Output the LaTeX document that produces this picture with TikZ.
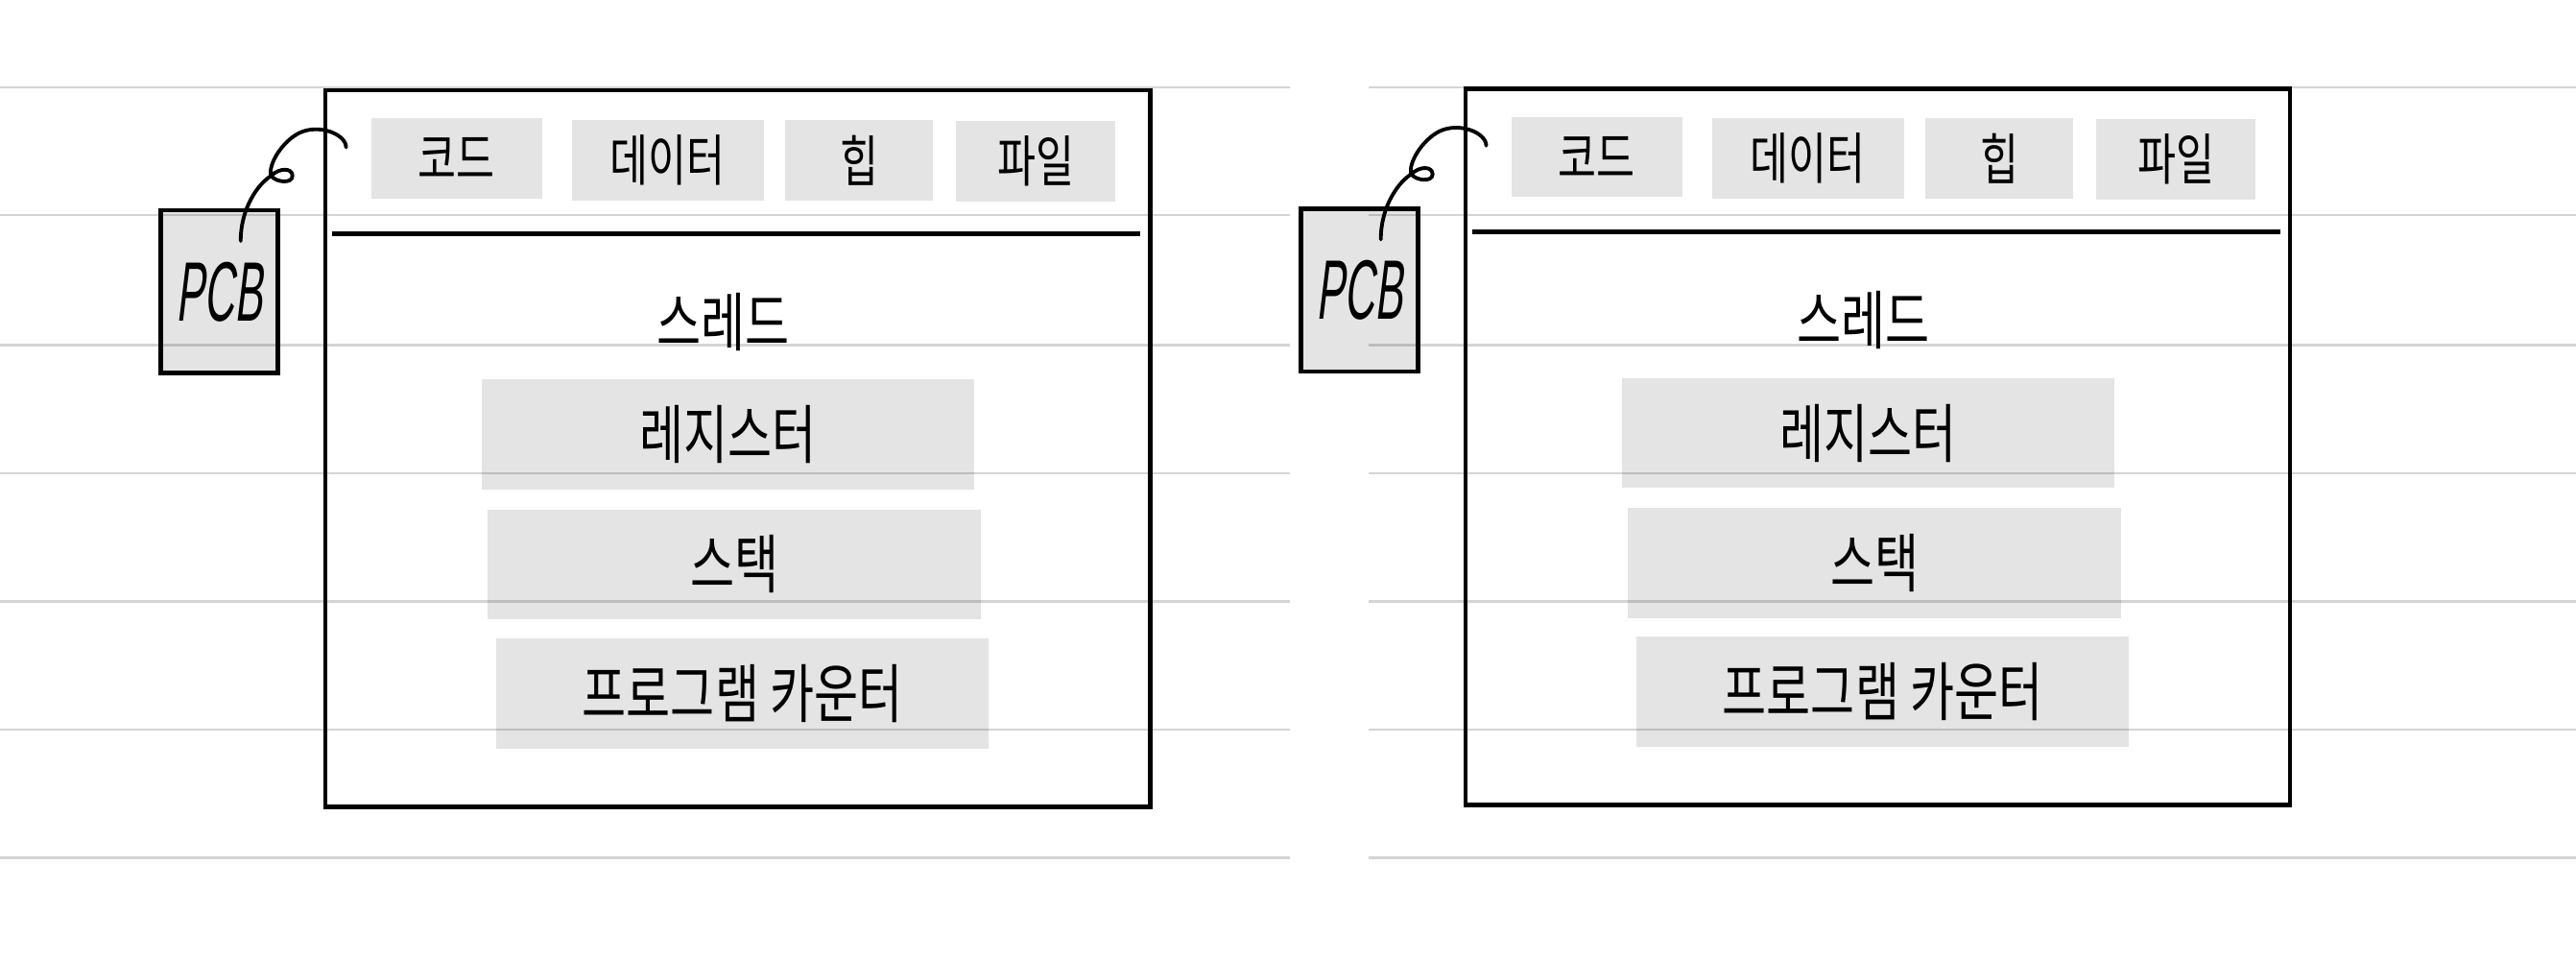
\documentclass[tikz,border=0pt]{standalone}
\usepackage{fontspec}
\newfontfamily\kr[FakeStretch=0.75]{Noto Sans CJK KR}
\newfontfamily\pcbfont[FakeStretch=0.5,FakeSlant=0.12]{Liberation Sans}
\definecolor{boxgray}{HTML}{E4E4E4}
\newlength\pxl
\setlength\pxl{0.017117cm}
\tikzset{
  tabbox/.style={fill=boxgray,inner sep=0pt,minimum width=#1*\pxl,minimum height=49*\pxl,font=\kr\fontsize{16.5}{16.5}\selectfont},
  regbox/.style={fill=boxgray,inner sep=0pt,minimum width=300*\pxl,minimum height=67*\pxl,font=\kr\fontsize{19}{19}\selectfont},
  pcbbox/.style={draw,line width=1.3pt,fill=boxgray,inner sep=0pt,minimum width=71*\pxl,minimum height=99*\pxl,font=\pcbfont\fontsize{25}{25}\selectfont},
  procbox/.style={draw,line width=1.3pt,inner sep=0pt,minimum width=502*\pxl,minimum height=436*\pxl},
  threadtext/.style={inner sep=0pt,font=\kr\fontsize{19}{19}\selectfont},
  hookline/.style={line width=1.1pt,line cap=round},
  ruleline/.style={draw=black,opacity=0.17,line width=0.6pt}
}
\begin{document}
\begin{tikzpicture}[x=0.017117cm,y=-0.017117cm]
  \useasboundingbox (0,0) rectangle (1568,584);

  \foreach \s/\dx/\dy in {L/0/0,R/694/-1} {
    \node[procbox] (proc\s) at (449+\dx,\dy+273) {};
    \node[pcbbox] (pcb\s) at (133.5+\dx,\dy+177.5) {PCB};

    % memory tabs
    \node[tabbox=104] (code\s) at (278+\dx,\dy+96.5) {코드};
    \node[tabbox=117] (data\s) at (406.5+\dx,\dy+97.5) {데이터};
    \node[tabbox=90] (heap\s) at (523+\dx,\dy+97.5) {힙};
    \node[tabbox=97] (file\s) at (630.5+\dx,\dy+98) {파일};
    \draw[line width=1.4pt] (202+\dx,\dy+142) -- (694+\dx,\dy+142);

    \node[threadtext] (thread\s) at (440+\dx,\dy+196) {스레드};
    \node[regbox] (reg\s) at (443+\dx,\dy+264.5) {레지스터};
    \node[regbox] (stack\s) at (447+\dx,\dy+343.5) {스택};
    \node[regbox] (pc\s) at (452+\dx,\dy+422) {프로그램 카운터};

    % tag string
    \coordinate (tail\s) at ([shift={(13,20)}]pcb\s.north);
    \coordinate (hook\s) at ([shift={(14,36)}]proc\s.north west);
    \draw[hookline] (tail\s) .. controls +(0,-20) and +(-8,5) .. (165+\dx,\dy+107)
      .. controls +(5,-5) and +(0,-5) .. (178+\dx,\dy+107)
      .. controls +(0,5) and +(3,4) .. (165+\dx,\dy+107)
      .. controls +(-2,-7) and +(-10,5) .. (182+\dx,\dy+81)
      .. controls +(12,-6) and +(0,-8) .. (hook\s);
  }

  % ruled paper
  \foreach \y in {53,131,210,288,366,444,522} {
    \draw[ruleline] (0,\y) -- (785,\y);
    \draw[ruleline] (833,\y) -- (1568,\y);
  }
\end{tikzpicture}
\end{document}
